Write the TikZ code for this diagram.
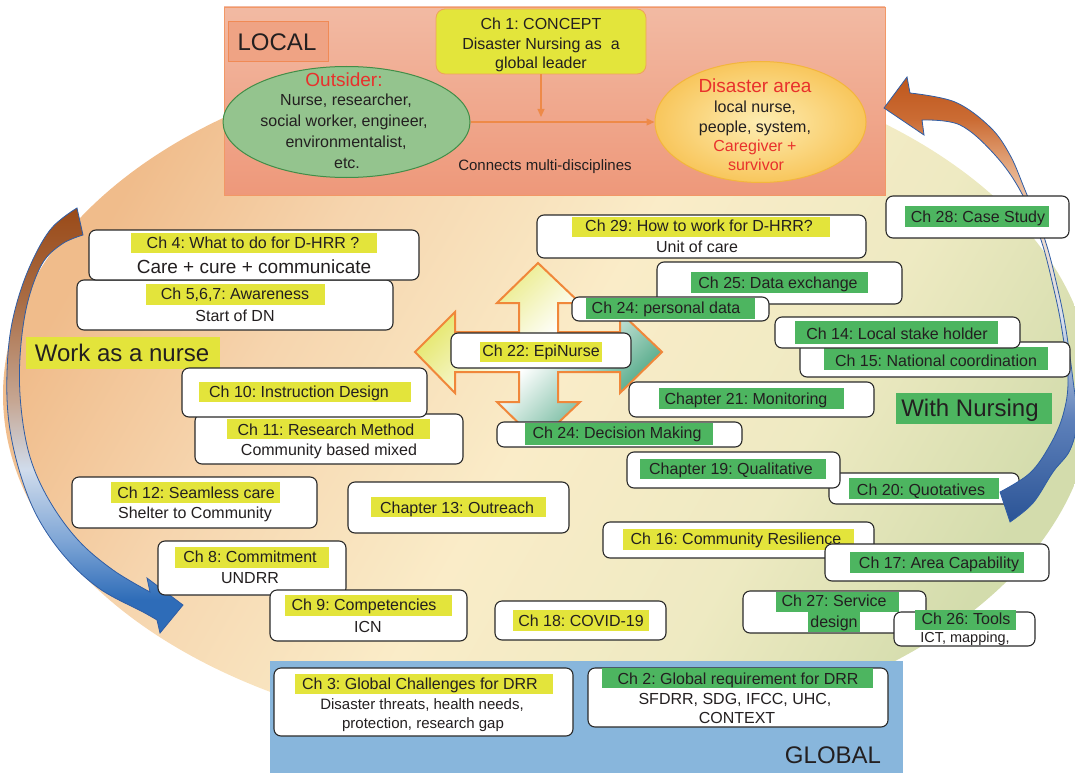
\documentclass[tikz,border=0pt]{standalone}
\usepackage{fontspec}
\setmainfont{Liberation Sans}
\usetikzlibrary{arrows.meta,fit,shapes.geometric}

\definecolor{ink}{HTML}{231F20}
\definecolor{hlYellow}{HTML}{E3E43B}
\definecolor{hlGreen}{HTML}{4DB560}
\definecolor{cardLine}{HTML}{2A2A2A}
\definecolor{bgA}{HTML}{F0BC8B}
\definecolor{bgB}{HTML}{F6D5AE}
\definecolor{bgC}{HTML}{FAECC8}
\definecolor{bgD}{HTML}{EEEAC2}
\definecolor{bgE}{HTML}{D3DCAC}
\definecolor{locTop}{HTML}{F2BAA3}
\definecolor{locBot}{HTML}{EE987A}
\definecolor{locEdge}{HTML}{F29866}
\definecolor{locLabel}{HTML}{EFA384}
\definecolor{locLabelEdge}{HTML}{F08A55}
\definecolor{conceptFill}{HTML}{E3E53B}
\definecolor{conceptEdge}{HTML}{EFA35A}
\definecolor{outFill}{HTML}{94C48E}
\definecolor{outEdge}{HTML}{428D48}
\definecolor{areaIn}{HTML}{FDEDB2}
\definecolor{areaOut}{HTML}{F8C65C}
\definecolor{areaEdge}{HTML}{F3B63C}
\definecolor{alertRed}{HTML}{E8312C}
\definecolor{connOrange}{HTML}{EE8A48}
\definecolor{globalFill}{HTML}{88B6DC}
\definecolor{crossEdge}{HTML}{F0873A}
\definecolor{crossY}{HTML}{E2E45A}
\definecolor{crossG}{HTML}{3C9E78}
\definecolor{bendEdge}{HTML}{2F5DA5}
% colours along the left bend (top to bottom)
\definecolor{lbA}{HTML}{9A4A18}
\definecolor{lbB}{HTML}{A96C44}
\definecolor{lbC}{HTML}{C6A692}
\definecolor{lbD}{HTML}{D0DCEC}
\definecolor{lbE}{HTML}{7FA6D6}
\definecolor{lbF}{HTML}{2E6CB8}
% colours along the right bend (top to bottom)
\definecolor{rbA}{HTML}{BE561C}
\definecolor{rbB}{HTML}{CB6C34}
\definecolor{rbC}{HTML}{E6AC84}
\definecolor{rbD}{HTML}{F2DCCB}
\definecolor{rbE}{HTML}{D8DFEC}
\definecolor{rbF}{HTML}{5D80BA}
\definecolor{rbG}{HTML}{2B5496}

\pgfdeclarehorizontalshading{bgshade}{100bp}{color(0bp)=(bgA); color(25bp)=(bgA); color(36bp)=(bgB); color(50bp)=(bgC); color(63bp)=(bgD); color(75bp)=(bgE); color(100bp)=(bgE)}
\pgfdeclareverticalshading{localshade}{100bp}{color(0bp)=(locBot); color(25bp)=(locBot); color(75bp)=(locTop); color(100bp)=(locTop)}
\pgfdeclareverticalshading{leftbend}{100bp}{color(0bp)=(lbF); color(28.9bp)=(lbF); color(35.9bp)=(lbE); color(44.2bp)=(lbD); color(52.4bp)=(lbC); color(64.2bp)=(lbB); color(75bp)=(lbA); color(100bp)=(lbA)}
\pgfdeclareverticalshading{rightbend}{100bp}{color(0bp)=(rbG); color(25bp)=(rbG); color(36.5bp)=(rbF); color(47.7bp)=(rbE); color(57.8bp)=(rbD); color(64.6bp)=(rbC); color(70.2bp)=(rbB); color(75bp)=(rbA); color(100bp)=(rbA)}

\tikzset{
  card/.style={draw=cardLine, fill=white, line width=1.1pt, rounded corners=7pt, inner sep=0pt},
  hly/.style={fill=hlYellow, inner sep=0pt},
  hlg/.style={fill=hlGreen, inner sep=0pt},
  txt/.style={inner sep=0pt, text depth=0pt, text=ink},
  f16/.style={txt, font=\fontsize{16}{19}\selectfont, text height=11.5pt},
  f15/.style={txt, font=\fontsize{15}{18}\selectfont, text height=10.7pt},
  f14/.style={txt, font=\fontsize{14.5}{17}\selectfont, text height=10.4pt},
  f19/.style={txt, font=\fontsize{19}{22}\selectfont, text height=13.6pt},
  f24/.style={txt, font=\fontsize{24}{28}\selectfont, text height=17.2pt},
  conn/.style={draw=connOrange, line width=1.1pt, -{Triangle[length=8pt,width=7pt]}},
  bendarrow/.style={draw=bendEdge, line width=0.8pt, shade},
}

\begin{document}
\frenchspacing
\begin{tikzpicture}[x=1pt,y=-1pt]
\useasboundingbox (0,0) rectangle (1075,773);
\clip (0,0) rectangle (1075,773);

% large field behind everything
\node[ellipse, inner sep=0pt, minimum width=1090pt, minimum height=690pt,
      shade, shading=bgshade, shading angle=-30] (field) at (548,395) {};

% ---------------- LOCAL panel ----------------
\node[fit={(224,7) (885,195)}, inner sep=0pt, shade, shading=localshade,
      draw=locEdge, line width=0.6pt] (localpanel) {};
\node[fit={(228,21) (328,61)}, inner sep=0pt, fill=locLabel, draw=locLabelEdge,
      line width=0.6pt] (locallabel) {};
\node[f24] (localtxt) at (277,42) {LOCAL};

\node[fit={(436,9) (646,74)}, inner sep=0pt, rounded corners=9pt, fill=conceptFill,
      draw=conceptEdge, line width=0.8pt] (concept) {};
\node[f16] (concept1) at (541,24) {Ch 1: CONCEPT};
\node[f16] (concept2) at (541,44) {Disaster Nursing as~ a};
\node[f16] (concept3) at (541,63) {global leader};

\node[ellipse, inner sep=0pt, minimum width=247pt, minimum height=111pt,
      fill=outFill, draw=outEdge, line width=1pt] (outsider) at (346.5,122) {};
\node[f19, text=alertRed] (out0) at (344,80) {Outsider:};
\node[f16] (out1) at (346,100) {Nurse, researcher,};
\node[f16] (out2) at (344,121) {social worker, engineer,};
\node[f16] (out3) at (346,142) {environmentalist,};
\node[f16] (out4) at (347,163) {etc.};

\node[ellipse, inner sep=0pt, minimum width=211pt, minimum height=121pt,
      inner color=areaIn, outer color=areaOut, draw=areaEdge, line width=1pt] (area) at (760.5,122) {};
\node[f19, text=alertRed] (area0) at (755,86) {Disaster area};
\node[f16] (area1) at (755,107) {local nurse,};
\node[f16] (area2) at (755,127) {people, system,};
\node[f16, text=alertRed] (area3) at (755,146) {Caregiver +};
\node[f16, text=alertRed] (area4) at (756,165) {survivor};

\coordinate (drop) at (541,117);
\draw[conn] (concept) -- (drop);
\draw[conn] (outsider) -- (area);
\node[f15] (connects) at (545,165) {Connects multi-disciplines};

% ---------------- GLOBAL panel ----------------
\node[fit={(270,661) (903,773)}, inner sep=0pt, fill=globalFill] (globalpanel) {};
\node[f24] (globaltxt) at (833,755) {GLOBAL};

% ---------------- left bend arrow ----------------
\path[bendarrow, shading=leftbend]
  (77,208) -- (83,235)
  -- plot[smooth, tension=0.6] coordinates {(83,235) (62,244) (42,264) (27,305) (20,357) (21,407) (30,457) (49,500) (78,540) (113,570) (150,592)}
  -- (147,578) -- (183,605) -- (160,633) -- (157,620)
  -- plot[smooth, tension=0.6] coordinates {(157,620) (143,612) (100,589) (66,558) (38,518) (20,473) (9,423) (7,373) (12,323) (27,273) (50,230) (77,208)}
  -- cycle;

% Ch 20 sits under the right bend
\node[card, fit={(829,473) (1019,504)}] (c20) {};
\node[hlg, fit={(849,478) (999,499)}] (c20h) {};
\node[f16] (c20a) at (921,490) {Ch 20: Quotatives};

% ---------------- right bend arrow ----------------
\path[bendarrow, shading=rightbend]
  (884,108) -- (907,77) -- (910,93)
  -- plot[smooth, tension=0.6] coordinates {(910,93) (955,102) (990,127) (1010,155) (1025,190) (1045,240) (1058,290) (1066,330) (1073,380) (1077,420) (1070,450) (1053,472) (1033,503) (1010,522)}
  -- (1000,492)
  -- plot[smooth, tension=0.6] coordinates {(1000,492) (1030,473) (1050,445) (1063,415) (1068,380) (1062,330) (1054,290) (1041,240) (1021,192) (995,155) (960,125) (922,120)}
  -- (924,135) -- cycle;

% ---------------- four-way arrow ----------------
\path[draw=crossEdge, line width=2pt, line join=miter, shade,
      top color=crossY, bottom color=crossG, middle color=white, shading angle=45]
  (538,263) -- (580,303) -- (558,303) -- (558,332) -- (620,332) -- (620,312)
  -- (662,352) -- (620,393) -- (620,372) -- (558,372) -- (558,402) -- (580,402)
  -- (538,442) -- (497,402) -- (519,402) -- (519,372) -- (455,372) -- (455,393)
  -- (415,352) -- (455,312) -- (455,332) -- (519,332) -- (519,303) -- (497,303) -- cycle;

% ---------------- left side cards ----------------
\node[card, fit={(77,280) (393,330)}] (c5) {};
\node[hly, fit={(146,284) (325,305)}] (c5h) {};
\node[f16] (c5a) at (235,294) {Ch 5,6,7: Awareness};
\node[f16] (c5b) at (235,316) {Start of DN};

\node[card, fit={(89,230) (419,280)}] (c4) {};
\node[hly, fit={(131,233) (377,253)}] (c4h) {};
\node[f16] (c4a) at (253,243) {Ch 4: What to do for D-HRR ?};
\node[f19] (c4b) at (254,267) {Care + cure + communicate};

\node[hly, fit={(26,337) (220,369)}] (nurseh) {};
\node[f24] (nurse) at (122,353) {Work as a nurse};

\node[card, fit={(195,414) (463,464)}] (c11) {};
\node[hly, fit={(227,419) (430,439)}] (c11h) {};
\node[f16] (c11a) at (326,430) {Ch 11: Research Method};
\node[f16] (c11b) at (329,450) {Community based mixed};

\node[card, fit={(182,368) (427,417)}] (c10) {};
\node[hly, fit={(199,382) (411,402)}] (c10h) {};
\node[f16] (c10a) at (299,392) {Ch 10: Instruction Design};

\node[card, fit={(72,477) (317,528)}] (c12) {};
\node[hly, fit={(111,482) (280,503)}] (c12h) {};
\node[f16] (c12a) at (196,493) {Ch 12: Seamless care};
\node[f16] (c12b) at (195,513) {Shelter to Community};

\node[card, fit={(348,482) (569,533)}] (c13) {};
\node[hly, fit={(371,497) (546,517)}] (c13h) {};
\node[f16] (c13a) at (457,508) {Chapter 13: Outreach};

\node[card, fit={(158,541) (346,595)}] (c8) {};
\node[hly, fit={(175,547) (329,568)}] (c8h) {};
\node[f16] (c8a) at (250,557) {Ch 8: Commitment};
\node[f16] (c8b) at (250,578) {UNDRR};

\node[card, fit={(270,590) (467,641)}] (c9) {};
\node[hly, fit={(285,595) (452,616)}] (c9h) {};
\node[f16] (c9a) at (364,605) {Ch 9: Competencies};
\node[f16] (c9b) at (368,627) {ICN};

\node[card, fit={(495,601) (666,640)}] (c18) {};
\node[hly, fit={(513,610) (649,631)}] (c18h) {};
\node[f16] (c18a) at (581,621) {Ch 18: COVID-19};

% ---------------- global cards ----------------
\node[card, fit={(274,668) (573,736)}] (c3) {};
\node[hly, fit={(295,674) (553,694)}] (c3h) {};
\node[f16] (c3a) at (420,684) {Ch 3: Global Challenges for DRR};
\node[f15] (c3b) at (422,704) {Disaster threats, health needs,};
\node[f15] (c3c) at (423,723) {protection, research gap};

\node[card, fit={(588,668) (888,727)}] (c2) {};
\node[hlg, fit={(602,668) (873,688)}] (c2h) {};
\node[f16] (c2a) at (738,679) {Ch 2: Global requirement for DRR};
\node[f16] (c2b) at (735,699) {SFDRR, SDG, IFCC, UHC,};
\node[f16] (c2c) at (737,718) {CONTEXT};

% ---------------- right side cards ----------------
\node[card, fit={(537,215) (866,258)}] (c29) {};
\node[hly, fit={(572,217) (830,237)}] (c29h) {};
\node[f16] (c29a) at (699,226) {Ch 29: How to work for D-HRR?};
\node[f16] (c29b) at (697,247) {Unit of care};

\node[card, fit={(886,196) (1069,238)}] (c28) {};
\node[hlg, fit={(905,206) (1049,227)}] (c28h) {};
\node[f16] (c28a) at (978,217) {Ch 28: Case Study};

\node[card, fit={(657,262) (902,304)}] (c25) {};
\node[hlg, fit={(691,272) (868,293)}] (c25h) {};
\node[f16] (c25a) at (778,283) {Ch 25: Data exchange};

\node[card, fit={(572,297) (769,321)}] (c24p) {};
\node[hlg, fit={(586,298) (755,319)}] (c24ph) {};
\node[f16] (c24pa) at (666,308) {Ch 24: personal data};

\node[card, fit={(800,342) (1070,377)}] (c15) {};
\node[hlg, fit={(824,347) (1048,370)}] (c15h) {};
\node[f16] (c15a) at (936,361) {Ch 15: National coordination};

\node[card, fit={(775,317) (1020,348)}] (c14) {};
\node[hlg, fit={(795,321) (998,344)}] (c14h) {};
\node[f16] (c14a) at (897,334) {Ch 14: Local stake holder};

\node[card, fit={(451,333) (631,368)}] (c22) {};
\node[hly, fit={(480,342) (602,362)}] (c22h) {};
\node[f16] (c22a) at (541,351) {Ch 22: EpiNurse};

\node[card, fit={(629,382) (874,417)}] (c21) {};
\node[hlg, fit={(659,388) (844,409)}] (c21h) {};
\node[f16] (c21a) at (746,399) {Chapter 21: Monitoring};

\node[hlg, fit={(896,393) (1052,424)}] (nursingh) {};
\node[f24] (nursing) at (970,408) {With Nursing};

\node[card, fit={(497,422) (742,447)}] (c24d) {};
\node[hlg, fit={(525,423) (713,445)}] (c24dh) {};
\node[f16] (c24da) at (617,433) {Ch 24: Decision Making};

\node[card, fit={(627,452) (840,488)}] (c19) {};
\node[hlg, fit={(640,459) (826,479)}] (c19h) {};
\node[f16] (c19a) at (731,469) {Chapter 19: Qualitative};

\node[card, fit={(603,522) (874,558)}] (c16) {};
\node[hly, fit={(623,529) (854,550)}] (c16h) {};
\node[f16] (c16a) at (736,539) {Ch 16: Community Resilience};

\node[card, fit={(825,544) (1049,581)}] (c17) {};
\node[hlg, fit={(850,552) (1024,573)}] (c17h) {};
\node[f16] (c17a) at (939,563) {Ch 17: Area Capability};

\node[card, fit={(743,591) (926,633)}] (c27) {};
\node[hlg, fit={(776,592) (899,612)}] (c27h) {};
\node[hlg, fit={(808,612) (860,632)}] (c27h2) {};
\node[f16] (c27a) at (834,601) {Ch 27: Service};
\node[f16] (c27b) at (834,622) {design};

\node[card, fit={(894,612) (1035,646)}] (c26) {};
\node[hlg, fit={(915,610) (1016,630)}] (c26h) {};
\node[f16] (c26a) at (966,619) {Ch 26: Tools};
\node[f14] (c26b) at (965,637) {ICT, mapping,};
\end{tikzpicture}
\end{document}
